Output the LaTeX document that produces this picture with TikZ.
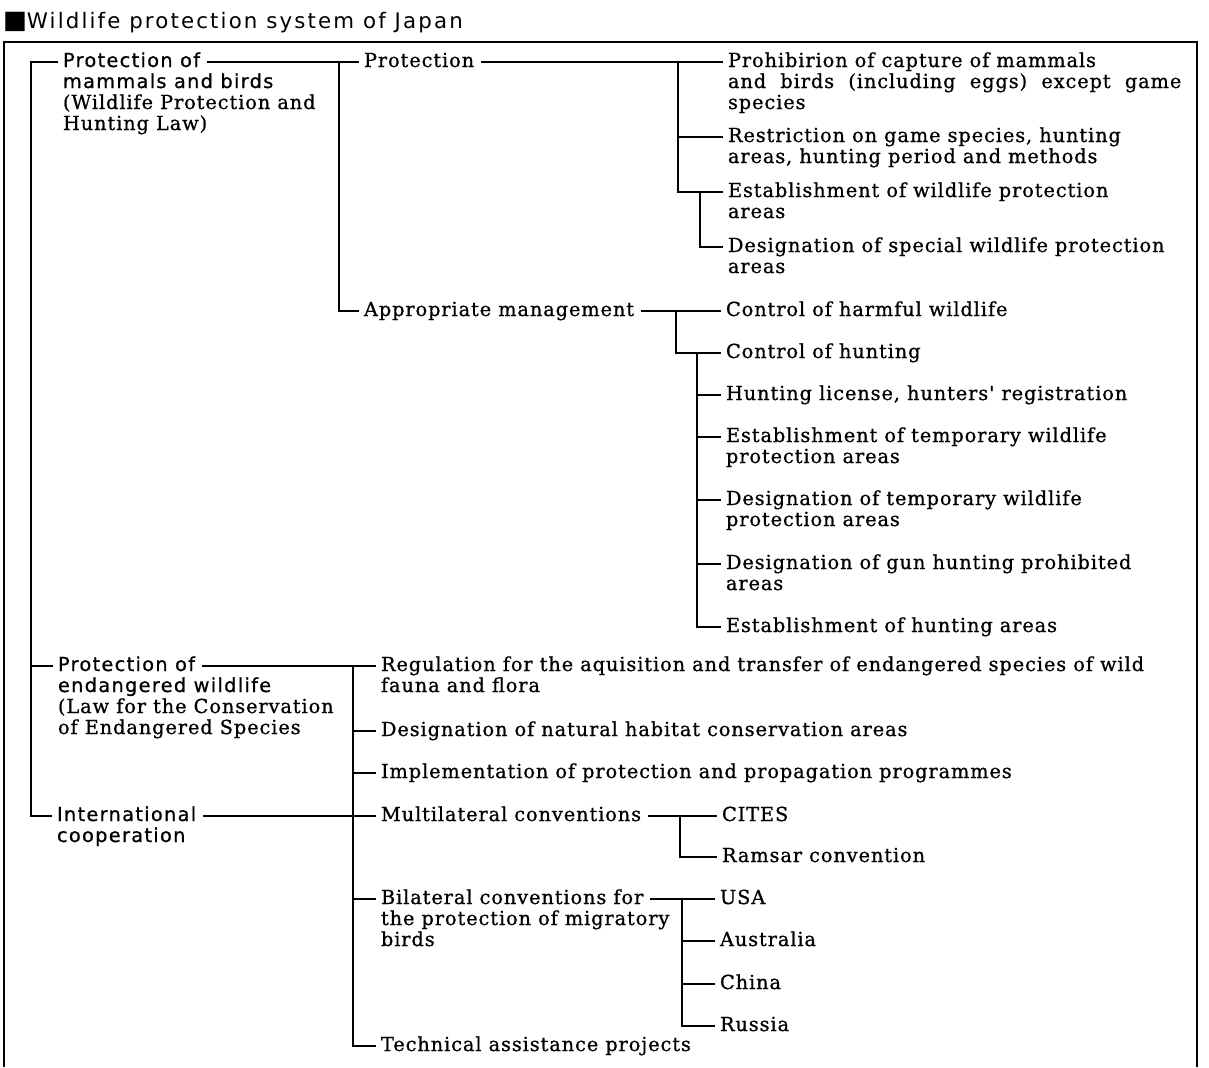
\documentclass[tikz,border=0pt]{standalone}
\usepackage{fontspec}
\newfontfamily\serifDV{DejaVu Serif}[LetterSpace=4.7,FakeBold=0.8]
\newfontfamily\sansDV{DejaVu Sans}[LetterSpace=6.8,FakeBold=0.8]
\newfontfamily\titleDV{DejaVu Sans}[LetterSpace=10]
\newcommand\tfserif{\serifDV\fontsize{14.5pt}{15.75pt}\selectfont}
\newcommand\tfsans{\sansDV\fontsize{14.5pt}{15.75pt}\selectfont}
\newcommand\tftitle{\titleDV\fontsize{16pt}{18pt}\selectfont}
\newcommand\bigsq{{\titleDV\fontsize{19pt}{19pt}\selectfont ■}}
\newcommand\mkports[1]{%
  \coordinate (#1-w) at ([yshift=3.75pt,xshift=-3.5pt]#1.base west);%
  \coordinate (#1-e) at ([yshift=3.75pt,xshift=5pt]#1.base east);}
\begin{document}
\begin{tikzpicture}[x=0.75pt,y=-0.75pt,
  txt/.style={anchor=base west,inner sep=0pt,outer sep=0pt,font=\tfserif},
  stxt/.style={txt,font=\tfsans},
  conn/.style={line width=1pt},
  framestyle/.style={line width=1.3pt}]
\useasboundingbox (0,0) rectangle (1209,1067);
% title and frame
\node[txt,font=\tftitle] (T) at (3,28) {\bigsq Wildlife protection system of Japan};
\draw[framestyle] (4,1067) -- (4,42) -- (1197,42) -- (1197,1067);
% level 1
\node[stxt] (PMa) at (63,67) {Protection of};
\node[txt] (PMb) at (63,88) {\vtop{\hbox{\tfsans mammals and birds}\hbox{(Wildlife Protection and}\hbox{Hunting Law)}}};
\node[stxt] (PEa) at (58,671) {Protection of};
\node[txt] (PEb) at (58,692) {\vtop{\hbox{\tfsans endangered wildlife}\hbox{(Law for the Conservation}\hbox{of Endangered Species}}};
\node[stxt] (ICa) at (57,821) {International};
\node[stxt] (ICb) at (57,842) {cooperation};
% level 2 (mammals)
\node[txt] (Prot) at (364,67) {Protection};
\node[txt] (AM) at (364,316) {Appropriate management};
% protection items
\node[txt] (P1) at (728,67) {\vtop{\hbox{Prohibirion of capture of mammals}\hbox to 340pt{and birds (including eggs) except game}\hbox{species}}};
\node[txt] (P2) at (728,142) {\vtop{\hbox{Restriction on game species, hunting}\hbox{areas, hunting period and methods}}};
\node[txt] (P3) at (728,197) {\vtop{\hbox{Establishment of wildlife protection}\hbox{areas}}};
\node[txt] (P4) at (728,252) {\vtop{\hbox{Designation of special wildlife protection}\hbox{areas}}};
% management items
\node[txt] (M1) at (726,316) {Control of harmful wildlife};
\node[txt] (M2) at (726,358) {Control of hunting};
\node[txt] (M3) at (726,400) {Hunting license, hunters' registration};
\node[txt] (M4) at (726,442) {\vtop{\hbox{Establishment of temporary wildlife}\hbox{protection areas}}};
\node[txt] (M5) at (726,505) {\vtop{\hbox{Designation of temporary wildlife}\hbox{protection areas}}};
\node[txt] (M6) at (726,569) {\vtop{\hbox{Designation of gun hunting prohibited}\hbox{areas}}};
\node[txt] (M7) at (726,632) {Establishment of hunting areas};
% endangered / international items
\node[txt] (E1) at (381,671) {\vtop{\hbox{Regulation for the aquisition and transfer of endangered species of wild}\hbox{fauna and flora}}};
\node[txt] (E2) at (381,736) {Designation of natural habitat conservation areas};
\node[txt] (E3) at (381,778) {Implementation of protection and propagation programmes};
\node[txt] (E4) at (381,821) {Multilateral conventions};
\node[txt] (E5a) at (381,904) {Bilateral conventions for};
\node[txt] (E5b) at (381,925) {\vtop{\hbox{the protection of migratory}\hbox{birds}}};
\node[txt] (E6) at (381,1051) {Technical assistance projects};
\node[txt] (C1) at (722,821) {CITES};
\node[txt] (C2) at (722,862) {Ramsar convention};
\node[txt] (B1) at (720,904) {USA};
\node[txt] (B2) at (720,946) {Australia};
\node[txt] (B3) at (720,989) {China};
\node[txt] (B4) at (720,1031) {Russia};
% ports
\foreach \n in {PMa,PEa,ICa,Prot,AM,P1,P2,P3,P4,M1,M2,M3,M4,M5,M6,M7,E1,E2,E3,E4,E5a,E6,C1,C2,B1,B2,B3,B4} {\mkports{\n}}
% trunk positions
\coordinate (T1) at (31,0);
\coordinate (T2) at (339,0);
\coordinate (TA) at (678,0);
\coordinate (TAb) at (700,0);
\coordinate (TB) at (676,0);
\coordinate (TC) at (697,0);
\coordinate (TD) at (353,0);
\coordinate (TE) at (680,0);
\coordinate (TF) at (682,0);
% level 1 connectors
\draw[conn] (PMa-w) -- (T1 |- PMa-w) -- (T1 |- ICa-w) -- (ICa-w);
\draw[conn] (T1 |- PEa-w) -- (PEa-w);
% mammals
\draw[conn] (PMa-e) -- (Prot-w);
\draw[conn] (T2 |- Prot-w) -- (T2 |- AM-w) -- (AM-w);
% protection
\draw[conn] (Prot-e) -- (P1-w);
\draw[conn] (TA |- Prot-e) -- (TA |- P3-w) -- (P3-w);
\draw[conn] (TA |- P2-w) -- (P2-w);
\draw[conn] (TAb |- P3-w) -- (TAb |- P4-w) -- (P4-w);
% management
\draw[conn] (AM-e) -- (M1-w);
\draw[conn] (TB |- AM-e) -- (TB |- M2-w) -- (M2-w);
\draw[conn] (TC |- M2-w) -- (TC |- M7-w) -- (M7-w);
\foreach \n in {M3,M4,M5,M6} {\draw[conn] (TC |- \n-w) -- (\n-w);}
% endangered and international
\draw[conn] (PEa-e) -- (E1-w);
\draw[conn] (ICa-e) -- (E4-w);
\draw[conn] (TD |- E1-w) -- (TD |- E6-w) -- (E6-w);
\foreach \n in {E2,E3,E5a} {\draw[conn] (TD |- \n-w) -- (\n-w);}
% multilateral
\draw[conn] (E4-e) -- (C1-w);
\draw[conn] (TE |- E4-e) -- (TE |- C2-w) -- (C2-w);
% bilateral
\draw[conn] (E5a-e) -- (B1-w);
\draw[conn] (TF |- E5a-e) -- (TF |- B4-w) -- (B4-w);
\foreach \n in {B2,B3} {\draw[conn] (TF |- \n-w) -- (\n-w);}
\end{tikzpicture}
\end{document}
